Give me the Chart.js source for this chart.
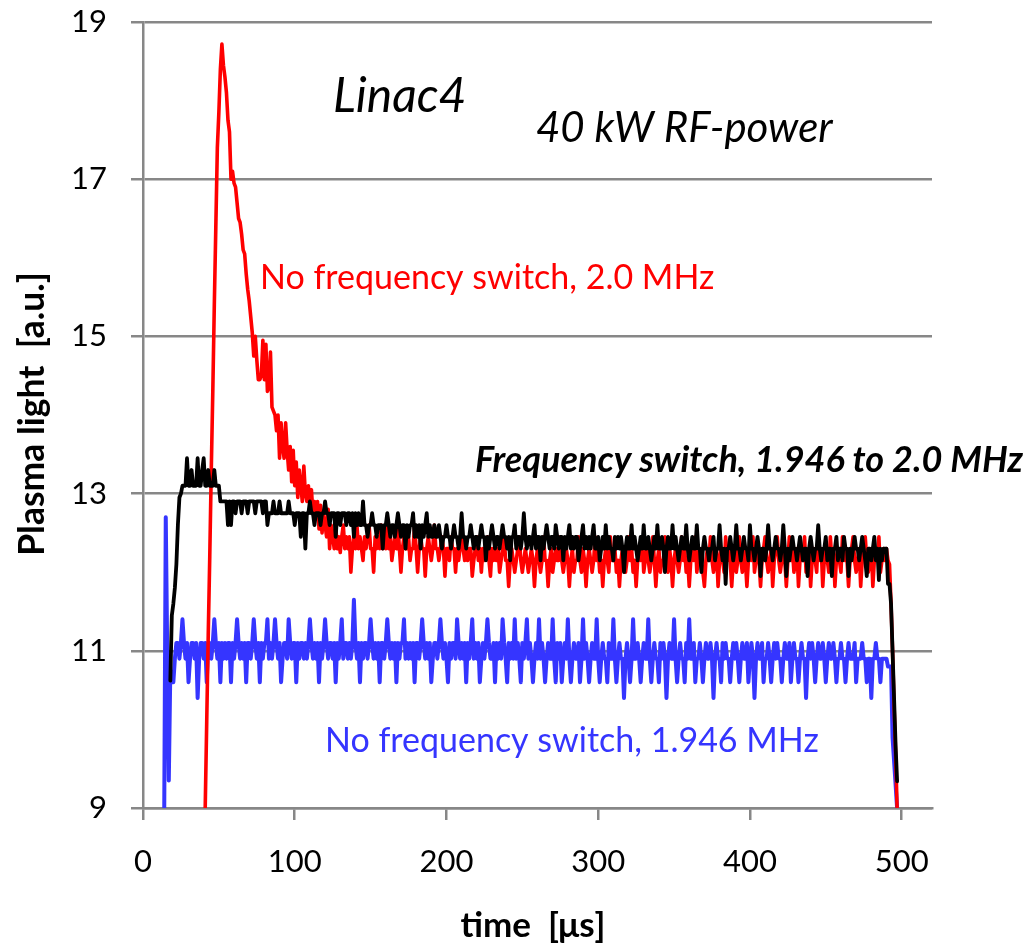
<!DOCTYPE html>
<html>
<head>
<meta charset="utf-8">
<script src="https://cdn.jsdelivr.net/npm/chart.js@4.4.1/dist/chart.umd.min.js"></script>
<style>
  html, body { margin: 0; padding: 0; background: #ffffff; }
  canvas { display: block; }
</style>
</head>
<body>
<canvas id="plasmaChart" width="1027" height="949"></canvas>
<script>
// Sample times of the plasma-light traces, in microseconds (1 µs steps)
const timeUs = [
  14, 15, 16, 17, 18, 19, 20, 21, 22, 23, 24, 25, 26, 27, 28, 29, 30, 31, 32, 33,
  34, 35, 36, 37, 38, 39, 40, 41, 42, 43, 44, 45, 46, 47, 48, 49, 50, 51, 52, 53,
  54, 55, 56, 57, 58, 59, 60, 61, 62, 63, 64, 65, 66, 67, 68, 69, 70, 71, 72, 73,
  74, 75, 76, 77, 78, 79, 80, 81, 82, 83, 84, 85, 86, 87, 88, 89, 90, 91, 92, 93,
  94, 95, 96, 97, 98, 99, 100, 101, 102, 103, 104, 105, 106, 107, 108, 109, 110, 111, 112, 113,
  114, 115, 116, 117, 118, 119, 120, 121, 122, 123, 124, 125, 126, 127, 128, 129, 130, 131, 132, 133,
  134, 135, 136, 137, 138, 139, 140, 141, 142, 143, 144, 145, 146, 147, 148, 149, 150, 151, 152, 153,
  154, 155, 156, 157, 158, 159, 160, 161, 162, 163, 164, 165, 166, 167, 168, 169, 170, 171, 172, 173,
  174, 175, 176, 177, 178, 179, 180, 181, 182, 183, 184, 185, 186, 187, 188, 189, 190, 191, 192, 193,
  194, 195, 196, 197, 198, 199, 200, 201, 202, 203, 204, 205, 206, 207, 208, 209, 210, 211, 212, 213,
  214, 215, 216, 217, 218, 219, 220, 221, 222, 223, 224, 225, 226, 227, 228, 229, 230, 231, 232, 233,
  234, 235, 236, 237, 238, 239, 240, 241, 242, 243, 244, 245, 246, 247, 248, 249, 250, 251, 252, 253,
  254, 255, 256, 257, 258, 259, 260, 261, 262, 263, 264, 265, 266, 267, 268, 269, 270, 271, 272, 273,
  274, 275, 276, 277, 278, 279, 280, 281, 282, 283, 284, 285, 286, 287, 288, 289, 290, 291, 292, 293,
  294, 295, 296, 297, 298, 299, 300, 301, 302, 303, 304, 305, 306, 307, 308, 309, 310, 311, 312, 313,
  314, 315, 316, 317, 318, 319, 320, 321, 322, 323, 324, 325, 326, 327, 328, 329, 330, 331, 332, 333,
  334, 335, 336, 337, 338, 339, 340, 341, 342, 343, 344, 345, 346, 347, 348, 349, 350, 351, 352, 353,
  354, 355, 356, 357, 358, 359, 360, 361, 362, 363, 364, 365, 366, 367, 368, 369, 370, 371, 372, 373,
  374, 375, 376, 377, 378, 379, 380, 381, 382, 383, 384, 385, 386, 387, 388, 389, 390, 391, 392, 393,
  394, 395, 396, 397, 398, 399, 400, 401, 402, 403, 404, 405, 406, 407, 408, 409, 410, 411, 412, 413,
  414, 415, 416, 417, 418, 419, 420, 421, 422, 423, 424, 425, 426, 427, 428, 429, 430, 431, 432, 433,
  434, 435, 436, 437, 438, 439, 440, 441, 442, 443, 444, 445, 446, 447, 448, 449, 450, 451, 452, 453,
  454, 455, 456, 457, 458, 459, 460, 461, 462, 463, 464, 465, 466, 467, 468, 469, 470, 471, 472, 473,
  474, 475, 476, 477, 478, 479, 480, 481, 482, 483, 484, 485, 486, 487, 488, 489, 490, 491, 492, 493,
  494, 495, 496, 497, 498
];

// Frequency switch, 1.946 -> 2.0 MHz (black trace)
const lightFreqSwitch = [
  null, null, null, null, 10.62, 11.45, 11.6, 11.8, 12.1, 12.6, 12.95, 13.0, 13.1, 13.1, 13.1, 13.45, 13.1, 13.1, 13.3, 13.1,
  13.1, 13.1, 13.45, 13.1, 13.1, 13.3, 13.45, 13.1, 13.1, 13.3, 13.1, 13.1, 13.1, 13.3, 13.1, 13.1, 13.1, 12.9, 12.9, 12.9,
  12.9, 12.9, 12.6, 12.9, 12.6, 12.9, 12.9, 12.75, 12.9, 12.9, 12.9, 12.75, 12.9, 12.9, 12.9, 12.75, 12.9, 12.9, 12.9, 12.9,
  12.75, 12.9, 12.9, 12.9, 12.9, 12.75, 12.9, 12.9, 12.6, 12.75, 12.75, 12.75, 12.9, 12.75, 12.75, 12.75, 12.9, 12.75, 12.75, 12.75,
  12.75, 12.75, 12.9, 12.75, 12.75, 12.75, 12.6, 12.75, 12.75, 12.75, 12.45, 12.75, 12.75, 12.3, 12.75, 12.75, 12.9, 12.75, 12.75, 12.6,
  12.75, 12.75, 12.75, 12.6, 12.75, 12.75, 12.9, 12.75, 12.75, 12.6, 12.75, 12.75, 12.75, 12.45, 12.75, 12.75, 12.6, 12.75, 12.75, 12.75,
  12.6, 12.75, 12.75, 12.6, 12.75, 12.45, 12.75, 12.6, 12.75, 12.6, 12.6, 12.9, 12.6, 12.6, 12.45, 12.6, 12.6, 12.75, 12.6, 12.6,
  12.45, 12.6, 12.6, 12.6, 12.3, 12.6, 12.6, 12.75, 12.6, 12.45, 12.6, 12.6, 12.45, 12.6, 12.75, 12.6, 12.45, 12.6, 12.6, 12.3,
  12.6, 12.45, 12.6, 12.6, 12.75, 12.45, 12.6, 12.45, 12.6, 12.3, 12.6, 12.45, 12.6, 12.75, 12.45, 12.6, 12.45, 12.45, 12.6, 12.45,
  12.45, 12.6, 12.45, 12.3, 12.45, 12.45, 12.6, 12.45, 12.45, 12.3, 12.45, 12.6, 12.45, 12.45, 12.3, 12.45, 12.75, 12.45, 12.45, 12.3,
  12.45, 12.45, 12.6, 12.45, 12.3, 12.45, 12.45, 12.3, 12.45, 12.6, 12.45, 12.45, 12.15, 12.45, 12.3, 12.45, 12.6, 12.45, 12.3, 12.45,
  12.45, 12.3, 12.45, 12.6, 12.45, 12.45, 12.3, 12.45, 12.15, 12.45, 12.45, 12.6, 12.3, 12.45, 12.45, 12.3, 12.45, 12.75, 12.45, 12.3,
  12.45, 12.45, 12.3, 12.45, 12.6, 12.3, 12.45, 12.45, 12.15, 12.45, 12.3, 12.45, 12.6, 12.45, 12.3, 12.45, 12.45, 12.3, 12.6, 12.45,
  12.3, 12.45, 12.45, 12.15, 12.45, 12.3, 12.45, 12.6, 12.3, 12.45, 12.3, 12.45, 12.45, 12.15, 12.3, 12.45, 12.6, 12.3, 12.45, 12.3,
  12.45, 12.3, 12.45, 12.6, 12.3, 12.3, 12.45, 12.15, 12.3, 12.45, 12.3, 12.6, 12.3, 12.45, 12.3, 12.3, 12.15, 12.45, 12.3, 12.45,
  12.3, 12.45, 12.3, 12.0, 12.3, 12.45, 12.3, 12.3, 12.6, 12.3, 12.45, 12.3, 12.15, 12.3, 12.45, 12.3, 12.6, 12.3, 12.3, 12.45,
  12.3, 12.15, 12.3, 12.45, 12.3, 12.6, 12.3, 12.3, 12.45, 12.3, 12.0, 12.3, 12.45, 12.3, 12.3, 12.6, 12.3, 12.45, 12.3, 12.15,
  12.3, 12.45, 12.3, 12.3, 12.6, 12.3, 12.15, 12.3, 12.45, 12.3, 12.3, 12.6, 12.3, 12.3, 12.0, 12.3, 12.45, 12.3, 12.3, 12.15,
  12.3, 12.3, 12.45, 12.15, 12.3, 12.3, 12.6, 12.3, 12.15, 12.3, 11.85, 12.3, 12.3, 12.45, 12.3, 12.15, 12.3, 12.6, 12.3, 12.3,
  12.15, 12.3, 12.45, 12.3, 12.3, 12.15, 12.6, 12.3, 12.3, 12.15, 12.3, 12.45, 12.3, 11.95, 12.3, 12.3, 12.15, 12.3, 12.6, 12.3,
  12.3, 12.15, 12.3, 12.45, 12.3, 12.3, 12.15, 12.3, 12.6, 12.3, 11.95, 12.3, 12.15, 12.3, 12.45, 12.3, 12.3, 12.15, 12.3, 12.45,
  12.3, 12.15, 12.3, 12.3, 11.95, 12.3, 12.45, 12.3, 12.15, 12.3, 12.3, 12.6, 12.3, 12.15, 12.3, 12.3, 12.45, 12.15, 12.3, 12.3,
  11.95, 12.3, 12.3, 12.45, 12.15, 12.3, 12.3, 12.15, 12.45, 12.3, 12.3, 11.95, 12.3, 12.15, 12.3, 12.45, 12.3, 12.3, 12.15, 12.3,
  12.45, 12.3, 12.15, 11.95, 12.3, 12.3, 12.15, 12.3, 12.45, 12.15, 12.3, 11.9, 12.3, 12.15, 12.3, 12.3, 12.3, 11.85, 11.85, 11.6,
  11.0, 10.4, 9.8, 9.34, null
];

// No frequency switch, 2.0 MHz (red trace)
const lightNoSwitch20 = [
  null, null, null, null, null, null, null, null, null, null, null, null, null, null, null, null, null, null, null, null,
  null, null, null, null, null, null, null, 9.0, 10.1, 11.2, 12.2, 13.3, 14.3, 15.4, 16.4, 17.4, 17.85, 18.4, 18.72, 18.45,
  18.3, 18.1, 17.75, 17.6, 17.0, 17.1, 16.95, 16.9, 16.7, 16.5, 16.45, 16.3, 16.1, 16.05, 15.8, 15.6, 15.45, 15.25, 15.05, 14.75,
  15.0, 14.7, 14.45, 14.45, 14.5, 14.95, 14.45, 14.9, 14.3, 14.35, 14.8, 14.1, 14.05, 14.0, 13.8, 14.0, 13.45, 13.9, 13.6, 13.45,
  13.9, 13.55, 13.3, 13.6, 13.15, 13.55, 13.1, 13.4, 12.95, 13.3, 13.1, 12.9, 13.35, 13.0, 12.9, 13.1, 12.85, 13.05, 12.75, 12.9,
  12.7, 12.9, 12.55, 12.85, 12.5, 12.75, 12.6, 12.45, 12.8, 12.3, 12.6, 12.45, 12.3, 12.6, 12.3, 12.45, 12.25, 12.45, 12.6, 12.3,
  12.45, 12.3, 12.45, 12.0, 12.3, 12.45, 12.3, 12.6, 12.3, 12.45, 12.3, 12.15, 12.45, 12.3, 12.45, 12.6, 12.3, 12.3, 12.0, 12.45,
  12.3, 12.45, 12.3, 12.6, 12.3, 12.45, 12.3, 12.7, 12.3, 12.45, 12.15, 12.3, 12.45, 12.3, 12.6, 12.3, 12.0, 12.3, 12.45, 12.3,
  12.3, 12.45, 12.15, 12.3, 12.3, 12.6, 12.3, 12.0, 12.3, 12.45, 12.3, 12.3, 11.95, 12.3, 12.45, 12.3, 12.15, 12.3, 12.6, 12.3,
  12.3, 12.15, 12.3, 12.45, 12.3, 11.95, 12.3, 12.3, 12.15, 12.45, 12.3, 12.3, 12.0, 12.3, 12.15, 12.3, 12.45, 12.3, 12.15, 12.3,
  12.15, 12.3, 12.3, 11.95, 12.15, 12.3, 12.45, 12.15, 12.3, 12.0, 12.3, 12.15, 12.3, 12.45, 12.15, 11.95, 12.3, 12.15, 12.3, 12.15,
  12.3, 12.0, 12.15, 12.3, 12.45, 12.15, 12.15, 11.82, 12.15, 12.3, 12.15, 12.0, 12.15, 12.3, 12.45, 12.15, 12.0, 12.15, 12.3, 12.15,
  12.0, 12.15, 12.3, 12.15, 11.82, 12.15, 12.3, 12.15, 12.0, 12.15, 12.45, 12.15, 12.15, 11.82, 12.15, 12.3, 12.0, 12.15, 12.3, 12.15,
  12.15, 12.45, 12.15, 12.0, 12.15, 12.3, 12.15, 11.82, 12.15, 12.3, 12.0, 12.15, 12.15, 12.45, 12.15, 12.0, 12.3, 12.15, 11.82, 12.15,
  12.3, 12.15, 12.0, 12.15, 12.45, 12.15, 12.3, 12.0, 12.15, 11.82, 12.15, 12.3, 12.15, 12.0, 12.45, 12.15, 12.15, 12.3, 12.0, 12.15,
  11.82, 12.15, 12.3, 12.15, 12.0, 12.15, 12.45, 12.15, 12.3, 12.0, 12.15, 11.82, 12.15, 12.3, 12.15, 12.45, 12.0, 12.15, 12.3, 12.15,
  12.0, 12.15, 12.45, 12.15, 11.82, 12.15, 12.3, 12.0, 12.15, 12.15, 12.45, 12.15, 12.0, 12.3, 12.15, 11.82, 12.15, 12.3, 12.15, 12.0,
  12.15, 12.45, 12.15, 12.3, 12.0, 12.15, 11.82, 12.15, 12.3, 12.15, 12.45, 12.0, 12.15, 12.3, 12.15, 12.0, 11.82, 12.15, 12.3, 12.15,
  12.45, 12.15, 12.0, 12.15, 12.3, 11.82, 12.15, 12.3, 12.15, 12.0, 12.45, 12.15, 12.3, 12.15, 11.82, 12.15, 12.3, 12.0, 12.15, 12.45,
  12.15, 12.0, 12.3, 12.15, 11.82, 12.15, 12.3, 12.15, 12.45, 12.0, 12.15, 12.3, 12.15, 11.82, 12.15, 12.3, 12.45, 12.15, 12.0, 12.15,
  12.3, 11.82, 12.15, 12.3, 12.45, 12.15, 12.0, 12.15, 12.3, 12.15, 11.82, 12.15, 12.45, 12.15, 12.3, 12.0, 12.15, 12.3, 11.82, 12.15,
  12.3, 12.15, 12.45, 12.0, 12.15, 12.3, 11.82, 12.15, 12.3, 12.15, 12.0, 12.45, 12.15, 12.3, 11.82, 12.15, 12.3, 12.15, 12.0, 12.45,
  12.15, 12.3, 11.82, 12.15, 12.3, 12.15, 12.0, 12.45, 12.15, 12.3, 12.15, 11.82, 12.15, 12.3, 12.45, 12.15, 12.0, 12.15, 12.3, 11.82,
  12.15, 12.3, 12.45, 12.15, 12.0, 12.15, 12.3, 11.82, 12.15, 12.3, 12.15, 12.45, 12.0, 12.15, 12.3, 12.15, 12.3, 12.15, 12.1, 11.6,
  11.0, 10.3, 9.7, 9.0, null
];

// No frequency switch, 1.946 MHz (blue trace)
const lightNoSwitch1946 = [
  9.0, 12.7, 10.9, 9.35, 10.75, 10.6, 10.6, 10.9, 11.1, 11.1, 10.9, 11.1, 11.4, 11.1, 10.9, 11.1, 10.6, 10.9, 11.1, 11.1,
  10.9, 11.1, 10.4, 10.9, 11.1, 11.1, 10.9, 11.1, 10.6, 11.1, 11.1, 10.9, 11.1, 11.4, 11.1, 10.9, 11.1, 10.6, 11.1, 10.9,
  11.1, 10.9, 11.1, 11.1, 10.6, 11.1, 10.9, 11.1, 11.4, 11.1, 10.9, 11.1, 10.9, 11.1, 10.6, 11.1, 11.1, 10.9, 11.1, 11.4,
  11.1, 10.9, 11.1, 10.6, 11.1, 10.9, 11.1, 11.1, 11.4, 10.9, 11.1, 10.9, 11.1, 11.4, 11.1, 10.9, 11.1, 10.6, 10.9, 11.1,
  11.1, 10.9, 11.4, 11.1, 10.9, 11.1, 11.1, 10.6, 11.1, 10.9, 11.1, 11.1, 10.9, 11.1, 10.9, 11.1, 11.4, 11.1, 10.9, 11.1,
  10.9, 11.1, 10.6, 11.1, 10.9, 11.1, 11.4, 11.1, 10.9, 11.1, 11.1, 10.9, 11.1, 10.6, 11.1, 10.9, 11.1, 11.4, 10.9, 11.1,
  11.1, 10.9, 11.1, 10.9, 11.1, 11.65, 11.1, 10.9, 11.1, 10.6, 11.1, 10.9, 11.1, 11.1, 10.9, 11.1, 11.4, 11.1, 10.9, 11.1,
  10.9, 11.1, 10.6, 11.1, 11.1, 10.9, 11.1, 11.4, 11.1, 10.9, 11.1, 10.9, 11.1, 10.6, 11.1, 10.9, 11.1, 11.1, 11.4, 10.9,
  11.1, 10.9, 11.1, 10.9, 11.1, 10.6, 11.1, 11.1, 10.9, 11.1, 11.4, 11.1, 10.9, 11.1, 10.9, 11.1, 10.6, 10.9, 11.1, 11.1,
  10.9, 11.1, 11.4, 11.1, 10.9, 11.1, 10.9, 10.6, 11.1, 10.9, 11.1, 11.1, 10.9, 11.4, 11.1, 10.9, 11.1, 10.9, 11.1, 10.6,
  11.1, 10.9, 11.1, 11.4, 10.9, 11.1, 10.9, 11.1, 10.6, 10.9, 11.1, 10.9, 11.1, 11.4, 11.1, 10.9, 10.9, 11.1, 10.6, 11.1,
  10.9, 11.1, 10.9, 11.4, 11.1, 10.9, 10.6, 11.1, 10.9, 11.1, 10.9, 11.4, 10.9, 11.1, 10.9, 10.6, 11.1, 10.9, 11.1, 11.4,
  10.9, 11.1, 10.9, 10.6, 10.9, 11.1, 10.9, 11.4, 10.9, 11.1, 10.9, 10.6, 10.9, 11.1, 10.9, 10.9, 11.4, 10.9, 10.6, 11.1,
  10.9, 11.1, 10.6, 10.9, 11.1, 10.9, 11.4, 10.9, 10.6, 10.9, 11.1, 10.9, 10.9, 11.1, 10.6, 10.9, 11.4, 10.9, 11.1, 10.9,
  10.6, 10.9, 11.1, 10.9, 10.9, 11.4, 10.9, 10.6, 10.9, 11.1, 10.9, 10.9, 10.6, 11.1, 10.9, 10.9, 11.4, 10.9, 10.6, 10.9,
  11.1, 10.9, 10.9, 10.4, 10.9, 11.1, 10.9, 10.6, 10.9, 11.4, 10.9, 10.9, 11.1, 10.9, 10.6, 10.9, 11.1, 10.9, 10.9, 11.4,
  10.9, 10.6, 10.9, 11.1, 10.9, 10.9, 10.6, 11.1, 10.9, 11.1, 10.9, 10.4, 10.9, 11.1, 10.9, 10.9, 11.4, 10.9, 10.6, 10.9,
  11.1, 10.9, 10.9, 10.6, 11.1, 10.9, 11.4, 10.9, 10.9, 11.1, 10.6, 10.9, 10.9, 11.1, 10.9, 10.6, 10.9, 11.1, 10.9, 10.9,
  11.1, 10.9, 10.4, 10.9, 11.1, 10.9, 10.9, 10.6, 11.1, 10.9, 11.1, 10.9, 10.9, 10.6, 10.9, 11.1, 10.9, 11.1, 10.9, 10.6,
  10.9, 11.1, 10.9, 10.9, 11.1, 10.6, 10.9, 11.1, 10.9, 10.4, 10.9, 11.1, 10.9, 10.9, 11.1, 10.6, 10.9, 10.9, 11.1, 10.9,
  10.6, 10.9, 11.1, 10.9, 11.1, 10.9, 10.9, 10.6, 10.9, 11.1, 10.9, 10.9, 11.1, 10.6, 10.9, 11.1, 10.9, 10.9, 10.6, 10.9,
  11.1, 10.9, 10.9, 10.4, 10.9, 11.1, 10.9, 11.1, 10.9, 10.6, 10.9, 11.1, 10.9, 10.9, 11.1, 10.9, 10.6, 10.9, 11.1, 10.9,
  10.9, 11.1, 10.9, 10.6, 10.9, 10.9, 11.1, 10.9, 10.9, 10.6, 10.9, 11.1, 10.9, 10.9, 10.9, 11.1, 10.6, 10.9, 10.9, 10.9,
  11.1, 10.9, 10.9, 10.6, 10.9, 10.9, 10.4, 10.9, 10.9, 11.1, 10.9, 10.9, 10.6, 10.9, 10.9, 10.9, 10.9, 10.8, 10.8, 10.8,
  9.9, 9.6, 9.3, 9.0, null
];

// Axis ticks
const xTickValues = [0, 100, 200, 300, 400, 500];
const yTickValues = [9, 11, 13, 15, 17, 19];

const AXIS_GREY = '#878787';
const FONT = 'Lato';

function points(values) {
  return timeUs.map((t, i) => ({ x: t, y: values[i] }));
}

// Free text drawn over the plot: title notes and trace labels
const notes = [
  { text: 'Linac4', x: 333, y: 112, font: `italic 48px ${FONT}`, color: '#000000' },
  { text: '40 kW RF-power', x: 536, y: 142, font: `italic 42px ${FONT}`, color: '#000000' },
  { text: 'No frequency switch, 2.0 MHz', x: 260, y: 289, font: `34px ${FONT}`, color: '#ff0000' },
  { text: 'Frequency switch, 1.946 to 2.0 MHz', x: 475, y: 472, font: `italic bold 36px ${FONT}`, color: '#000000' },
  { text: 'No frequency switch, 1.946 MHz', x: 325, y: 752, font: `34px ${FONT}`, color: '#3535ff' }
];

const textPlugin = {
  id: 'textNotes',
  afterDraw(chart) {
    const ctx = chart.ctx;
    ctx.save();
    ctx.textAlign = 'left';
    ctx.textBaseline = 'alphabetic';
    for (const n of notes) {
      ctx.font = n.font;
      ctx.fillStyle = n.color;
      ctx.fillText(n.text, n.x, n.y);
    }
    // axis titles
    ctx.fillStyle = '#000000';
    ctx.font = `bold 35px ${FONT}`;
    ctx.textAlign = 'center';
    ctx.fillText('time  [\u03bcs]', 533, 937);
    ctx.font = `bold 35.5px ${FONT}`;
    ctx.translate(44, 414);
    ctx.rotate(-Math.PI / 2);
    ctx.fillText('Plasma light  [a.u.]', 0, 0);
    ctx.restore();
  }
};

new Chart(document.getElementById('plasmaChart'), {
  type: 'line',
  data: {
    datasets: [
      {
        label: 'Frequency switch, 1.946 to 2.0 MHz',
        data: points(lightFreqSwitch),
        borderColor: '#000000',
        borderWidth: 3.8
      },
      {
        label: 'No frequency switch, 2.0 MHz',
        data: points(lightNoSwitch20),
        borderColor: '#ff0000',
        borderWidth: 3.6
      },
      {
        label: 'No frequency switch, 1.946 MHz',
        data: points(lightNoSwitch1946),
        borderColor: '#3535ff',
        borderWidth: 4
      }
    ]
  },
  options: {
    responsive: false,
    animation: false,
    devicePixelRatio: 1,
    layout: { padding: { top: 22, right: 95, bottom: 0, left: 0 } },
    plugins: { legend: { display: false }, tooltip: { enabled: false } },
    elements: {
      point: { radius: 0 },
      line: { tension: 0, borderJoinStyle: 'round', borderCapStyle: 'round', fill: false }
    },
    scales: {
      x: {
        type: 'linear',
        min: 0,
        max: 520,
        afterBuildTicks: (scale) => { scale.ticks = xTickValues.map(v => ({ value: v })); },
        afterFit: (scale) => { scale.height = 141; scale.paddingLeft = 0; scale.paddingRight = 0; },
        grid: { drawOnChartArea: false, drawTicks: true, tickLength: 12, color: AXIS_GREY, lineWidth: 2.5 },
        border: { display: true, color: AXIS_GREY, width: 2.5 },
        ticks: { font: { family: FONT, size: 31 }, color: '#000000', padding: 23, maxRotation: 0, autoSkip: false }
      },
      y: {
        type: 'linear',
        min: 9,
        max: 19,
        afterBuildTicks: (scale) => { scale.ticks = yTickValues.map(v => ({ value: v })); },
        afterFit: (scale) => { scale.width = 143; scale.paddingTop = 0; scale.paddingBottom = 0; },
        grid: { drawTicks: true, tickLength: 12, color: AXIS_GREY, lineWidth: 2.5 },
        border: { display: true, color: AXIS_GREY, width: 2.5 },
        ticks: { font: { family: FONT, size: 31 }, color: '#000000', padding: 24 }
      }
    }
  },
  plugins: [textPlugin]
});
</script>
</body>
</html>
